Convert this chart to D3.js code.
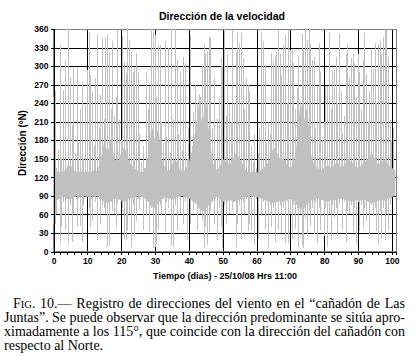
<!DOCTYPE html>
<html lang="es">

<head>
	<title>Dirección de la velocidad</title>
	<meta charset="utf-8">
	<script src="https://d3js.org/d3.v7.min.js"></script>
	<style>
		body { margin: 0; background: #fff; }
		svg { display: block; }
	</style>
</head>

<body>
	<div id="container"></div>
	<script>
		// Data: wind direction (ºN), one max/min pair every half day from day 0
		const dirMax = [
			250, 259, 135, 165, 334, 150, 261, 310, 140, 360, 283, 205, 299, 160, 299, 175, 230, 275, 150, 237,
			294, 353, 286, 259, 170, 280, 350, 200, 253, 345, 215, 345, 350, 321, 230, 340, 220, 250, 358, 213,
			180, 348, 307, 289, 361, 341, 323, 290, 299, 321, 291, 190, 145, 170, 135, 289, 230, 267, 360, 355,
			350, 250, 334, 334, 210, 175, 340, 185, 329, 160, 360, 215, 360, 310, 190, 290, 165, 315, 305, 150,
			200, 350, 170, 225, 270, 240, 255, 250, 300, 335, 320, 325, 347, 347, 200, 283, 150, 215, 250, 313,
			300, 360, 220, 318, 237, 210, 358, 240, 323, 353, 338, 353, 313, 230, 280, 270, 259, 170, 145, 190,
			135, 160, 200, 353, 340, 302, 175, 210, 190, 321, 310, 315, 323, 358, 320, 286, 334, 350, 240, 358,
			326, 326, 305, 230, 264, 315, 240, 352, 326, 361, 343, 361, 335, 310, 315, 200, 267, 337, 290, 180,
			210, 267, 267, 353, 230, 293, 295, 315, 240, 352, 260, 190, 220, 320, 335, 283, 313, 320, 305, 250,
			320, 290, 230, 310, 353, 288, 210, 260, 326, 295, 337, 240, 335, 340, 320, 347, 360, 358, 315, 213,
			180, 200
		];
		const dirMin = [
			45, 45, 60, 85, 14, 40, 80, 35, 90, 14, 75, 16, 60, 88, 40, 85, 42, 15, 75, 92,
			88, 70, 40, 50, 90, 80, 18, 85, 45, 75, 70, 60, 8, 10, 80, 65, 60, 40, 78, 85,
			90, 70, 20, 18, 35, 60, 8, 75, 24, 50, 85, 67, 90, 35, 88, 57, 80, 31, 70, 5,
			8, 12, 35, 75, 57, 85, 31, 80, 70, 90, 10, 8, 75, 35, 88, 60, 90, 45, 80, 18,
			85, 45, 88, 67, 80, 35, 70, 60, 50, 5, 40, 10, 31, 65, 80, 45, 85, 18, 70, 40,
			5, 75, 45, 80, 60, 88, 67, 80, 8, 45, 75, 20, 80, 60, 85, 33, 45, 35, 88, 10,
			85, 20, 88, 57, 80, 37, 85, 8, 75, 40, 70, 16, 80, 35, 75, 30, 70, 14, 80, 14,
			60, 20, 75, 37, 70, 8, 60, 10, 5, 55, 25, 65, 42, 70, 28, 80, 14, 70, 35, 85,
			25, 70, 8, 60, 18, 75, 55, 70, 25, 75, 85, 35, 80, 16, 65, 60, 75, 31, 70, 14,
			80, 33, 75, 40, 70, 50, 80, 25, 75, 57, 70, 33, 10, 65, 20, 70, 18, 60, 35, 75,
			85, 90
		];
		const step = 0.5;

		// Dense core of the record (filled grey), one top/bottom pair per day
		const bandTop = [
			135, 130, 128, 130, 135, 140, 132, 128, 130, 128, 130, 128, 132, 130, 150, 180, 160, 185, 150, 145,
			160, 170, 150, 140, 135, 130, 128, 132, 155, 205, 180, 200, 150, 135, 130, 140, 150, 135, 130, 132,
			145, 165, 200, 240, 205, 250, 190, 145, 132, 135, 150, 145, 140, 150, 160, 150, 140, 130, 128, 130,
			128, 130, 135, 140, 150, 170, 160, 150, 150, 140, 135, 140, 180, 245, 210, 235, 160, 140, 135, 132,
			135, 140, 135, 140, 145, 135, 140, 150, 145, 140, 135, 140, 145, 150, 160, 150, 140, 145, 150, 140,
			135, 132
		];
		const bandBottom = [
			80, 82, 86, 88, 85, 84, 88, 90, 88, 90, 88, 90, 88, 90, 85, 80, 78, 82, 86, 85,
			82, 80, 84, 86, 88, 90, 88, 86, 80, 72, 70, 78, 85, 88, 86, 84, 86, 88, 90, 88,
			86, 82, 78, 70, 65, 68, 76, 84, 88, 86, 80, 82, 84, 80, 82, 84, 86, 88, 90, 88,
			88, 86, 84, 82, 80, 78, 80, 82, 80, 84, 85, 82, 74, 68, 70, 76, 82, 84, 86, 84,
			82, 80, 84, 82, 84, 86, 84, 82, 80, 82, 84, 82, 84, 80, 78, 80, 82, 84, 82, 86,
			88, 90
		];

		const xTicks = [0, 10, 20, 30, 40, 50, 60, 70, 80, 90, 100];
		const yTicks = [0, 30, 60, 90, 120, 150, 180, 210, 240, 270, 300, 330, 360];

		const title = "Dirección de la velocidad";
		const xTitle = "Tiempo (dias) - 25/10/08 Hrs 11:00";
		const yTitle = "Dirección (ºN)";
		const captionLines = [
			"Registro de direcciones del viento en el “cañadón de Las",
			"Juntas”. Se puede observar que la dirección predominante se sitúa apro-",
			"ximadamente a los 115°, que coincide con la dirección del cañadón con",
			"respecto al Norte."
		];

		// Create chart dimensions
		const width = 419;
		const height = 356;
		const plot = { left: 53.5, right: 396, top: 29, bottom: 251.5 };

		const svg = d3.select("#container")
			.append("svg")
			.attr("width", width)
			.attr("height", height);

		// Create scales
		const x = d3.scaleLinear()
			.domain([0, 101.2])
			.range([plot.left, plot.right]);

		const y = d3.scaleLinear()
			.domain([0, 360])
			.range([plot.bottom, plot.top]);

		// Draw gridlines
		const gridY = svg.append("g")
			.attr("transform", `translate(${plot.left},0)`)
			.call(d3.axisLeft(y)
				.tickValues(yTicks.slice(1, -1))
				.tickSize(-(plot.right - plot.left))
				.tickFormat(""));
		gridY.select(".domain").remove();
		gridY.selectAll("line").attr("stroke", "#000").attr("shape-rendering", "crispEdges");

		const gridX = svg.append("g")
			.attr("transform", `translate(0,${plot.bottom})`)
			.call(d3.axisBottom(x)
				.tickValues(xTicks.slice(1))
				.tickSize(-(plot.bottom - plot.top))
				.tickFormat(""));
		gridX.select(".domain").remove();
		gridX.selectAll("line").attr("stroke", "#000").attr("shape-rendering", "crispEdges");

		// Plot border
		svg.append("rect")
			.attr("x", plot.left)
			.attr("y", plot.top)
			.attr("width", plot.right - plot.left)
			.attr("height", plot.bottom - plot.top)
			.attr("fill", "none")
			.attr("stroke", "#808080")
			.attr("shape-rendering", "crispEdges");

		// Draw data
		const grey = "#c0c0c0";

		const band = d3.area()
			.x((d, i) => x(i))
			.y0((d, i) => y(bandBottom[i]))
			.y1(d => y(d));

		svg.append("path")
			.datum(bandTop)
			.attr("d", band)
			.attr("fill", grey);

		const samples = dirMax.map((v, i) => ({ t: i * step, hi: v, lo: dirMin[i] }));

		svg.append("g")
			.selectAll("line")
			.data(samples)
			.join("line")
			.attr("x1", d => x(d.t))
			.attr("x2", d => x(d.t))
			.attr("y1", d => y(d.lo))
			.attr("y2", d => y(d.hi))
			.attr("stroke", grey)
			.attr("stroke-width", 1)
			.attr("shape-rendering", "crispEdges");

		// Draw peripherals
		const yAxis = svg.append("g")
			.attr("transform", `translate(${plot.left},0)`)
			.call(d3.axisLeft(y).tickValues(yTicks).tickSize(3).tickPadding(2));

		const xAxis = svg.append("g")
			.attr("transform", `translate(0,${plot.bottom})`)
			.call(d3.axisBottom(x).tickValues(xTicks).tickSize(3).tickPadding(3));

		svg.append("g")
			.attr("transform", `translate(0,${plot.bottom})`)
			.call(d3.axisBottom(x).tickValues(d3.range(0, 101, 2)).tickSize(3).tickFormat(""))
			.select(".domain").remove();

		svg.selectAll(".tick line, .domain")
			.attr("shape-rendering", "crispEdges");

		[xAxis, yAxis].forEach(g => g.selectAll("text")
			.attr("font-family", "Liberation Sans, Arial, sans-serif")
			.attr("font-size", "8.5px")
			.attr("font-weight", "bold")
			.attr("fill", "#000"));

		svg.append("text")
			.attr("x", 222)
			.attr("y", 20)
			.attr("text-anchor", "middle")
			.attr("font-family", "Liberation Sans, Arial, sans-serif")
			.attr("font-size", "10.5px")
			.attr("font-weight", "bold")
			.text(title);

		svg.append("text")
			.attr("x", 225)
			.attr("y", 279)
			.attr("text-anchor", "middle")
			.attr("font-family", "Liberation Sans, Arial, sans-serif")
			.attr("font-size", "9px")
			.attr("font-weight", "bold")
			.text(xTitle);

		svg.append("text")
			.attr("transform", "translate(26,143) rotate(-90)")
			.attr("text-anchor", "middle")
			.attr("font-family", "Liberation Sans, Arial, sans-serif")
			.attr("font-size", "10px")
			.attr("font-weight", "bold")
			.text(yTitle);

		// Caption, justified
		const capLeft = 4;
		const capRight = 405;
		const capY = [308, 322, 336, 350];

		captionLines.forEach((str, i) => {
			const t = svg.append("text")
				.attr("x", capLeft)
				.attr("y", capY[i])
				.attr("font-family", "Liberation Serif, Times New Roman, serif")
				.attr("font-size", "14px")
				.attr("fill", "#000");
			if (i === 0) {
				t.append("tspan").attr("dx", 9).text("F");
				t.append("tspan").attr("font-size", "10.5px").text("IG");
				t.append("tspan").text(". 10.— ");
			}
			t.append("tspan").text(str);
			if (i < captionLines.length - 1) {
				const len = t.node().getComputedTextLength() + (i === 0 ? 9 : 0);
				const spaces = (t.text().match(/ /g) || []).length;
				t.attr("word-spacing", (capRight - capLeft - len) / spaces);
			}
		});
	</script>
</body>

</html>
